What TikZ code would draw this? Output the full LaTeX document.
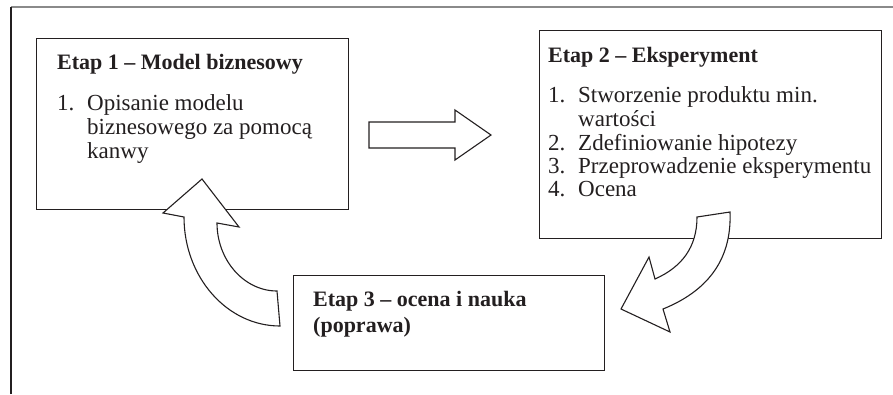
\documentclass[tikz,border=0pt]{standalone}
\usepackage{fontspec}
\setmainfont{Liberation Serif}
\definecolor{ink}{HTML}{231F20}
\definecolor{framegray}{HTML}{8A8A8A}
\tikzset{
  stagebox/.style={draw=ink, line width=1.4pt, fill=white, inner sep=0pt, anchor=north west},
  ttl/.style={anchor=base west, inner sep=0pt, text=ink, font=\bfseries\fontsize{22}{24}\selectfont},
  itm/.style={anchor=base west, inner sep=0pt, text=ink, font=\fontsize{23}{25}\selectfont},
  blockarrow/.style={draw=ink, fill=white, line width=1.1pt, line join=miter},
}
\begin{document}
\begin{tikzpicture}[x=1pt, y=-1pt]
\useasboundingbox (0,0) rectangle (893,394);
% frame
\coordinate (f0) at (11,394);
\coordinate (f1) at (11,7);
\coordinate (f2) at (893,7);
\draw[framegray, line width=1.4pt] (f1) -- (f2);
\draw[ink, line width=1.2pt] (f0) -- (f1);

% boxes
\node[stagebox, minimum width=312pt, minimum height=171pt] (b1) at (36,38) {};
\node[stagebox, minimum width=342pt, minimum height=208pt] (b2) at (539,30) {};
\node[stagebox, minimum width=311pt, minimum height=95pt] (b3) at (293,275) {};

% box 1 text
\node[ttl] (t1) at (57,69) {Etap 1 – Model biznesowy};
\node[itm] (n11) at (57,110) {1.};
\node[itm] (i11) at (87,110) {Opisanie modelu};
\node[itm] (i12) at (87,134) {biznesowego za pomocą};
\node[itm] (i13) at (87,158) {kanwy};

% box 2 text
\node[ttl] (t2) at (548,62) {Etap 2 – Eksperyment};
\node[itm] (n21) at (548,102) {1.};
\node[itm] (i21) at (578,102) {Stworzenie produktu min.};
\node[itm] (i21b) at (578,126) {wartości};
\node[itm] (n22) at (548,150) {2.};
\node[itm] (i22) at (578,150) {Zdefiniowanie hipotezy};
\node[itm] (n23) at (548,173) {3.};
\node[itm] (i23) at (578,173) {Przeprowadzenie eksperymentu};
\node[itm] (n24) at (548,196) {4.};
\node[itm] (i24) at (578,196) {Ocena};

% box 3 text
\node[ttl] (t3) at (313,306) {Etap 3 – ocena i nauka};
\node[ttl] (t3b) at (313,332) {(poprawa)};

% straight block arrow (box 1 -> box 2)
\draw[blockarrow] (369,122) -- (455,122) -- (455,110) -- (491,135) -- (455,160) -- (455,148) -- (369,148) -- cycle;

% curved block arrow (box 2 -> box 3)
\draw[blockarrow] (697,217) -- (730,212)
  .. controls (732,262) and (705,292) .. (663,309)
  -- (670,332) -- (621,309) -- (649,257) -- (655,279)
  .. controls (682,267) and (697,247) .. (697,217) -- cycle;

% curved block arrow (box 3 -> box 1)
\draw[blockarrow] (280,326) -- (277,291)
  .. controls (244,291) and (217,260) .. (217,223)
  -- (239,227) -- (202,179) -- (163,213) -- (184,217)
  .. controls (184,277) and (227,326) .. (280,326) -- cycle;
\end{tikzpicture}
\end{document}
